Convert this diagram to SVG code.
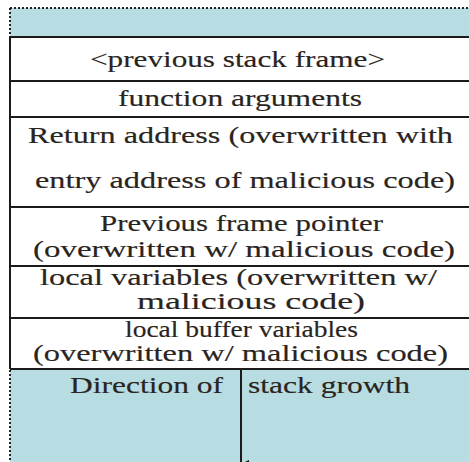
<svg xmlns="http://www.w3.org/2000/svg" width="469" height="462" viewBox="0 0 469 462">
<style>
.band{fill:#b7dde2}
.row{fill:#ffffff}
.rule{stroke:#1b1b1b;stroke-width:2;fill:none}
.dot{stroke:#222;stroke-width:2;stroke-dasharray:2 2;fill:none}
.t{font-family:'Liberation Serif','DejaVu Serif','Times New Roman',serif;font-size:23px;fill:#2a2420;stroke:#2a2420;stroke-width:0.15}
</style>
<defs>
<marker id="ah" markerWidth="8" markerHeight="8" refX="4" refY="8" orient="auto" markerUnits="userSpaceOnUse">
<path d="M0,0 L8,0 L4,8 Z" fill="#1b1b1b"/>
</marker>
</defs>
<rect x="0" y="0" width="469" height="462" fill="#ffffff"/>
<g id="top-band">
<rect class="band" x="10" y="8" width="460" height="29"/>
<path class="dot" d="M10,8 H469 M10,8 V37"/>
</g>
<g id="previous-stack-frame">
<rect class="row" x="10" y="37" width="460" height="44"/>
<text class="t" x="90" y="67" textLength="295" lengthAdjust="spacingAndGlyphs">&lt;previous stack frame&gt;</text>
</g>
<g id="function-arguments">
<rect class="row" x="10" y="81" width="460" height="36"/>
<text class="t" x="118" y="106" textLength="244" lengthAdjust="spacingAndGlyphs">function arguments</text>
</g>
<g id="return-address">
<rect class="row" x="10" y="117" width="460" height="90"/>
<text class="t" x="28" y="143" textLength="425" lengthAdjust="spacingAndGlyphs">Return address (overwritten with</text>
<text class="t" x="35" y="188" textLength="420" lengthAdjust="spacingAndGlyphs">entry address of malicious code)</text>
</g>
<g id="previous-frame-pointer">
<rect class="row" x="10" y="207" width="460" height="59"/>
<text class="t" x="100" y="231" textLength="283" lengthAdjust="spacingAndGlyphs">Previous frame pointer</text>
<text class="t" x="33" y="257" textLength="422" lengthAdjust="spacingAndGlyphs">(overwritten w/ malicious code)</text>
</g>
<g id="local-variables">
<rect class="row" x="10" y="266" width="460" height="52"/>
<text class="t" x="40" y="285" textLength="397" lengthAdjust="spacingAndGlyphs">local variables (overwritten w/</text>
<text class="t" x="137" y="309" textLength="228" lengthAdjust="spacingAndGlyphs">malicious code)</text>
</g>
<g id="local-buffer-variables">
<rect class="row" x="10" y="318" width="460" height="51"/>
<text class="t" x="125" y="337" textLength="233" lengthAdjust="spacingAndGlyphs">local buffer variables</text>
<text class="t" x="33" y="361" textLength="415" lengthAdjust="spacingAndGlyphs">(overwritten w/ malicious code)</text>
</g>
<g id="stack-growth">
<rect class="band" x="10" y="369" width="460" height="93"/>
<path class="dot" d="M10,370 V462"/>
<text class="t" x="70" y="393" textLength="153" lengthAdjust="spacingAndGlyphs">Direction of</text>
<text class="t" x="248" y="393" textLength="162" lengthAdjust="spacingAndGlyphs">stack growth</text>
</g>
<g id="rules">
<path class="rule" d="M10,37 H470 M10,81 H470 M10,117 H470 M10,207 H470 M10,266 H470 M10,318 H470 M10,369 H470 M10,37 V369"/>
</g>
<g id="connectors">
<line x1="241" y1="370" x2="241" y2="464" stroke="#1b1b1b" stroke-width="2" marker-end="url(#ah)"/>
</g>
</svg>
